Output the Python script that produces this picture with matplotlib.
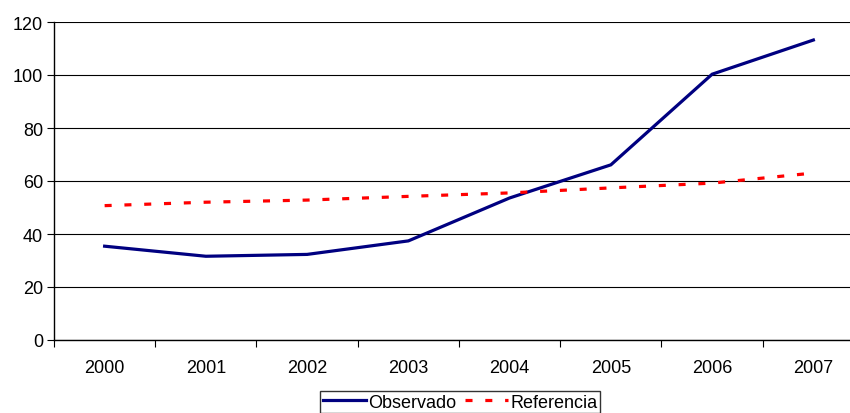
import matplotlib
matplotlib.use("Agg")
import matplotlib.pyplot as plt
from matplotlib.ticker import FixedLocator, NullFormatter

plt.rcParams['font.family'] = ['Liberation Sans', 'DejaVu Sans']

years = ["2000", "2001", "2002", "2003", "2004", "2005", "2006", "2007"]
observado = [35.4, 31.6, 32.3, 37.4, 53.6, 66.1, 100.3, 113.2]
referencia = [50.7, 52.0, 52.8, 54.2, 55.5, 57.4, 59.2, 63.0]
y_ticks = [0, 20, 40, 60, 80, 100, 120]

W, H = 850, 414
fig = plt.figure(figsize=(W / 100, H / 100), dpi=100)
left, right, top, bottom = 54, 864, 23, 341
ax = fig.add_axes([left / W, 1 - bottom / H, (right - left) / W, (bottom - top) / H])

x = list(range(len(years)))
ax.plot(x, observado, color="#000080", lw=2.3, solid_joinstyle="miter",
        label="Observado", zorder=3)
ax.plot(x, referencia, color="#FF0000", lw=2.3, dashes=(2.2, 4.0),
        label="Referencia", zorder=3)

ax.set_xlim(-0.5, len(years) - 0.5)
ax.set_ylim(0, 120)
ax.set_yticks(y_ticks)
ax.set_yticklabels([str(v) for v in y_ticks], fontsize=13)
ax.yaxis.grid(True, color="black", lw=0.8)
ax.set_axisbelow(True)

# category labels centred, tick marks between categories
ax.xaxis.set_major_locator(FixedLocator([i - 0.5 for i in range(len(years) + 1)]))
ax.xaxis.set_major_formatter(NullFormatter())
ax.xaxis.set_minor_locator(FixedLocator(x))
ax.set_xticklabels(years, minor=True, fontsize=13)
ax.tick_params(axis="x", which="minor", length=0, pad=14)
ax.tick_params(axis="x", which="major", length=5, width=0.8, color="black")
ax.tick_params(axis="y", length=5, width=0.8, pad=3)

for s in ("top", "right"):
    ax.spines[s].set_visible(False)
for s in ("left", "bottom"):
    ax.spines[s].set_linewidth(1.0)
    ax.spines[s].set_color("black")

leg = fig.legend(loc="upper center", bbox_to_anchor=(460 / W, 1 - 392 / H),
                 ncol=2, frameon=True, fancybox=False, fontsize=13,
                 handlelength=2.4, handletextpad=0.1, columnspacing=0.5,
                 borderpad=0.15, borderaxespad=0)
leg.get_frame().set_edgecolor("black")
leg.get_frame().set_linewidth(1.0)

fig.savefig("out.png", dpi=100)
